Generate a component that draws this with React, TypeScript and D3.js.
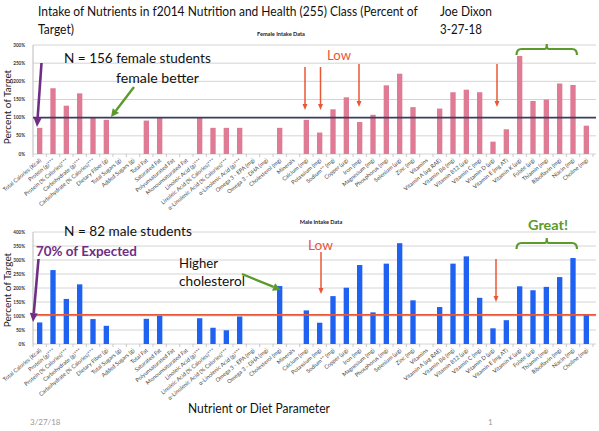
import React, { useLayoutEffect, useRef } from "react";
import * as d3 from "d3";

const categories: string[] = [
  "Total Calories (Kcal)", "Protein (g)***", "Protein (% Calories)***", "Carbohydrate (g)***",
  "Carbohydrate (% Calories)***", "Dietary Fiber (g)", "Total Sugars (g)", "Added Sugars (g)",
  "Total Fat", "Saturated Fat", "Polyunsaturated Fat", "Monounsaturated Fat",
  "Linoleic Acid (g)***", "Linoleic Acid (% Calories)***", "α-Linolenic Acid (% Calories)***",
  "α-Linolenic Acid (g)***", "Omega 3 - EPA (mg)", "Omega 3 - DHA (mg)", "Cholesterol (mg)",
  "Minerals", "Calcium (mg)", "Potassium (mg)", "Sodium** (mg)", "Copper (µg)", "Iron (mg)",
  "Magnesium (mg)", "Phosphorus (mg)", "Selenium (µg)", "Zinc (mg)", "Vitamins",
  "Vitamin A (µg RAE)", "Vitamin B6 (mg)", "Vitamin B12 (µg)", "Vitamin C (mg)", "Vitamin D (µg)",
  "Vitamin E (mg AT)", "Vitamin K (µg)", "Folate (µg)", "Thiamin (mg)", "Riboflavin (mg)",
  "Niacin (mg)", "Choline (mg)",
];

const femaleValues: (number | null)[] = [
  72, 181, 133, 167, 100, 94, null, null, 92, 100, null, null, 100, 72, 72, 72, null, null, 72,
  null, 94, 59, 123, 156, 88, 108, 189, 221, 129, null, 125, 170, 177, 170, 34, 68, 270, 146,
  150, 194, 190, 78,
];

const maleValues: (number | null)[] = [
  77, 264, 161, 213, 89, 65, null, null, 90, 101, null, null, 92, 58, 49, 98, null, null, 207,
  null, 120, 76, 171, 201, 282, 113, 287, 360, 156, null, 132, 287, 313, 165, 56, 85, 206, 192,
  204, 239, 307, 107,
];

const femaleTicks: number[] = [0, 50, 100, 150, 200, 250, 300];
const maleTicks: number[] = [0, 50, 100, 150, 200, 250, 300, 350, 400];
const femaleTarget = 100;
const maleTarget = 104;

const FONT = "Lato, 'Open Sans', sans-serif";

function FitText({ x, y, width, size, fill = "#111", weight = "normal", children }: any) {
  const ref = useRef<SVGTextElement>(null);
  useLayoutEffect(() => {
    const el = ref.current;
    if (!el) return;
    const len = el.getComputedTextLength();
    const s = len > 0 ? width / len : 1;
    el.setAttribute("transform", `translate(${x} ${y}) scale(${s} 1)`);
  }, [x, y, width, children]);
  return (
    <text ref={ref} x={0} y={0} transform={`translate(${x} ${y})`} fontSize={size} fontWeight={weight}
      fontFamily={FONT} fill={fill}>{children}</text>
  );
}

function Arrow({ x1, y1, x2, y2, color, width, head, headW }: any) {
  const ang = Math.atan2(y2 - y1, x2 - x1);
  const bx = x2 - head * Math.cos(ang);
  const by = y2 - head * Math.sin(ang);
  const px = -Math.sin(ang) * headW / 2;
  const py = Math.cos(ang) * headW / 2;
  return (
    <g>
      <line x1={x1} y1={y1} x2={bx} y2={by} stroke={color} strokeWidth={width} />
      <polygon points={`${x2},${y2} ${bx + px},${by + py} ${bx - px},${by - py}`} fill={color} />
    </g>
  );
}

function Brace({ x1, x2, y, color }: any) {
  const mid = (x1 + x2) / 2;
  const d = `M${x1},${y + 6} Q${x1},${y} ${x1 + 5},${y} L${mid - 2},${y} Q${mid},${y} ${mid},${y - 5} Q${mid},${y} ${mid + 2},${y} L${x2 - 5},${y} Q${x2},${y} ${x2},${y + 6}`;
  return <path d={d} fill="none" stroke={color} strokeWidth={2.2} />;
}

function Panel({ values, ticks, y0, y1, max, color, target, targetColor, title, titleX, titleY, labelY }: any) {
  const x = d3.scaleBand<string>().domain(categories).range([33, 593]).paddingInner(0.6).paddingOuter(0.3);
  const y = d3.scaleLinear().domain([0, max]).range([y0, y1]);
  const step = x.step();
  return (
    <g>
      {ticks.map((t: number) => (
        <g key={t}>
          <line x1={33} x2={596} y1={y(t)} y2={y(t)} stroke="#d4d4d4" strokeWidth={1} />
          <text x={25} y={y(t) + 1.6} fontSize={4.6} fontWeight="bold" textAnchor="end" fill="#333" fontFamily={FONT}>{t}%</text>
        </g>
      ))}
      <line x1={33} x2={33} y1={y(0)} y2={y(max)} stroke="#bbb" strokeWidth={1} />
      {d3.range(categories.length + 1).map((i) => (
        <line key={i} x1={33 + i * step} x2={33 + i * step} y1={y0} y2={y0 + 3} stroke="#bbb" strokeWidth={0.8} />
      ))}
      {categories.map((c, i) => {
        const v = values[i];
        if (v == null) return null;
        return <rect key={c} x={x(c)} y={y(v)} width={x.bandwidth()} height={y(0) - y(v)} fill={color} />;
      })}
      <line x1={33} x2={596} y1={y(target)} y2={y(target)} stroke={targetColor} strokeWidth={1.6} />
      {categories.map((c) => {
        const cx = (x(c) as number) + x.bandwidth() / 2 + 2;
        const cy = y0 + 7;
        return (
          <text key={c} x={cx} y={cy} fontSize={5.6} textAnchor="end" fill="#444" fontFamily={FONT}
            transform={`rotate(-40 ${cx} ${cy})`}>{c}</text>
        );
      })}
      <text x={titleX} y={titleY} fontSize={5.6} fontWeight="bold" textAnchor="middle" fill="#222" fontFamily={FONT}>{title}</text>
      <text x={0} y={0} fontSize={10} textAnchor="middle" fill="#222" fontFamily={FONT}
        transform={`translate(10.5 ${labelY}) rotate(-90)`}>Percent of Target</text>
    </g>
  );
}

export default function App() {
  const purple = "#6f2d84";
  const green = "#5c9a2c";
  const red = "#ea5736";
  return (
    <svg width={599} height={431} viewBox="0 0 599 431" style={{ position: "absolute", left: 0, top: 0, background: "#fff" }}>
      <rect width={599} height={431} fill="#fff" />
      <FitText x={38} y={16.2} size={14} width={380}>Intake of Nutrients in f2014 Nutrition and Health (255) Class (Percent of</FitText>
      <FitText x={38} y={33.8} size={14} width={36}>Target)</FitText>
      <FitText x={440} y={16.2} size={14} width={52}>Joe Dixon</FitText>
      <FitText x={440} y={33.8} size={14} width={42}>3-27-18</FitText>

      <Panel values={femaleValues} ticks={femaleTicks} y0={154} y1={45} max={300} color="#e07b96"
        target={femaleTarget} targetColor="#3a3d5c" title="Female Intake Data" titleX={281} titleY={36} labelY={107} />
      <Panel values={maleValues} ticks={maleTicks} y0={344} y1={232} max={400} color="#1f62f2"
        target={maleTarget} targetColor={red} title="Male Intake Data" titleX={321} titleY={224} labelY={290} />

      {/* female annotations */}
      <FitText x={64} y={62.5} size={13.5} width={147}>N = 156 female students</FitText>
      <FitText x={116} y={83} size={13.5} width={83}>female better</FitText>
      <Arrow x1={41.5} y1={63} x2={37} y2={127} color={purple} width={2.6} head={9} headW={8} />
      <Arrow x1={134} y1={87} x2={111} y2={117} color={green} width={2.4} head={8} headW={8} />
      <FitText x={327} y={60} size={13.5} width={24} fill={red}>Low</FitText>
      <Arrow x1={305} y1={67} x2={305} y2={110} color={red} width={1.5} head={6} headW={5} />
      <Arrow x1={320.5} y1={67} x2={320.5} y2={110} color={red} width={1.5} head={6} headW={5} />
      <Arrow x1={359} y1={64} x2={359} y2={107} color={red} width={1.5} head={6} headW={5} />
      <Arrow x1={497} y1={64} x2={497} y2={107} color={red} width={1.5} head={6} headW={5} />
      <Brace x1={516.5} x2={577} y={49} color={green} />

      {/* male annotations */}
      <FitText x={64} y={236} size={13.5} width={128}>N = 82 male students</FitText>
      <FitText x={36} y={256} size={13.5} width={101} weight="bold" fill={purple}>70% of Expected</FitText>
      <Arrow x1={38.5} y1={259} x2={33} y2={322} color={purple} width={2.6} head={9} headW={8} />
      <FitText x={179} y={267.5} size={13.5} width={39}>Higher</FitText>
      <FitText x={179} y={286} size={13.5} width={66}>cholesterol</FitText>
      <Arrow x1={242} y1={274} x2={281} y2={290} color={green} width={2.4} head={8} headW={8} />
      <FitText x={308} y={250} size={13.5} width={25} fill={red}>Low</FitText>
      <Arrow x1={321} y1={252} x2={321} y2={294} color={red} width={1.5} head={6} headW={5} />
      <Arrow x1={496} y1={259} x2={496} y2={302} color={red} width={1.5} head={6} headW={5} />
      <FitText x={528} y={230} size={13.5} width={40} weight="bold" fill={green}>Great!</FitText>
      <Brace x1={516.5} x2={577} y={243} color={green} />

      <FitText x={188} y={413} size={14} width={142}>Nutrient or Diet Parameter</FitText>
      <text x={30} y={425} fontSize={8} fontFamily={FONT} fill="#999">3/27/18</text>
      <text x={488} y={425} fontSize={8} fontFamily={FONT} fill="#999">1</text>
    </svg>
  );
}
